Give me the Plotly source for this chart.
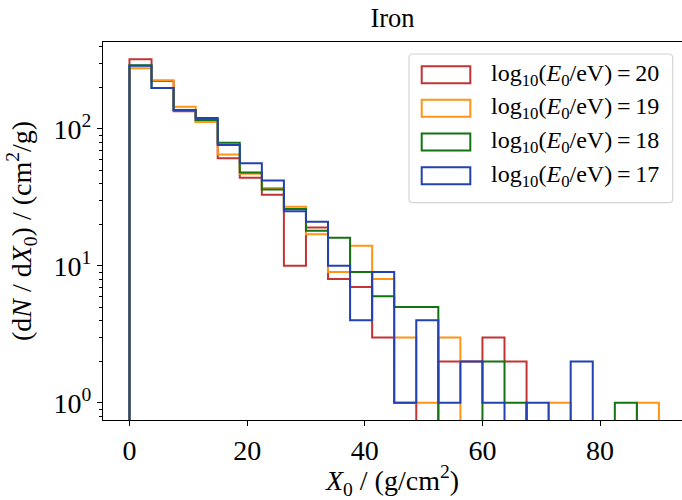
import numpy as np
import plotly.graph_objects as go

# Histogram binning of the starting depth X0 (g/cm^2)
bin_edges = np.linspace(0.0, 90.0, 25)

# Showers per bin for each primary energy, log10(E0/eV)
energies = [20, 19, 18, 17]
counts_e20 = [322, 223, 134, 113, 61, 44, 33, 10, 19, 8, 7, 3, 1, 0, 2, 2, 3, 2, 0, 0, 0, 0, 0, 0]
counts_e19 = [277, 226, 145, 112, 65, 47, 37, 27, 17, 9, 14, 8, 3, 1, 3, 0, 0, 0, 0, 1, 0, 0, 0, 1]
counts_e18 = [291, 198, 137, 116, 79, 48, 36, 26, 18, 16, 9, 6, 5, 5, 0, 0, 2, 1, 0, 0, 0, 0, 1, 0]
counts_e17 = [288, 198, 137, 120, 76, 56, 42, 25, 21, 10, 4, 9, 1, 4, 1, 2, 1, 0, 1, 0, 2, 0, 0, 0]
series = {20: counts_e20, 19: counts_e19, 18: counts_e18, 17: counts_e17}
colors = {20: "#c33333", 19: "#ff9416", 18: "#137313", 17: "#2341b0"}

x_ticks = [0, 20, 40, 60, 80]
y_ticks = [1, 10, 100]
y_tick_text = ["10<sup>0</sup>", "10<sup>1</sup>", "10<sup>2</sup>"]

FONT = "Liberation Serif, Times New Roman, serif"
W, H = 682, 500
L, R, T, B = 103, 0, 42, 80
PW, PH = W - L - R, H - T - B

# empty bins sit below the visible floor of the log axis
floor = 0.1

fig = go.Figure()
for e in energies:
    c = np.asarray(series[e], dtype=float)
    c = np.where(c > 0, c, floor)
    xs = np.repeat(bin_edges, 2)
    ys = np.concatenate([[floor], np.repeat(c, 2), [floor]])
    fig.add_trace(go.Scatter(
        x=xs, y=ys, mode="lines",
        line=dict(color=colors[e], width=2),
        showlegend=False, hoverinfo="skip",
    ))

# axis limits with 5% padding (log padding on y)
all_counts = np.concatenate([series[e] for e in energies]).astype(float)
lo = np.log10(all_counts[all_counts > 0].min())
hi = np.log10(all_counts.max())
pad = 0.05 * (hi - lo)
y_range = [lo - pad, hi + pad]
x_pad = 0.05 * (bin_edges[-1] - bin_edges[0])
x_range = [bin_edges[0] - x_pad, bin_edges[-1] + x_pad - 0.58]

# minor log ticks inside the visible range only
ymin, ymax = 10 ** y_range[0], 10 ** y_range[1]
minor_vals = [m * 10.0 ** k for k in range(-1, 3) for m in range(2, 10)
              if ymin <= m * 10.0 ** k <= ymax]

fig.update_xaxes(
    range=x_range, tickvals=x_ticks, ticks="outside", ticklen=5, tickwidth=1.1,
    tickcolor="black", showline=True, linecolor="black", linewidth=1.1,
    mirror=True, showgrid=False, zeroline=False,
    tickfont=dict(family=FONT, size=28, color="black"),
    title=dict(text="<i>X</i><sub>0</sub> / (g/cm<sup>2</sup>)",
               font=dict(family=FONT, size=28, color="black"), standoff=8),
)
fig.update_yaxes(
    type="log", range=y_range, tickvals=y_ticks, ticktext=y_tick_text,
    ticks="outside", ticklen=5, tickwidth=1.1, tickcolor="black",
    minor=dict(tickmode="array", tickvals=minor_vals, ticks="outside",
               ticklen=3, tickwidth=0.9, tickcolor="black"),
    showline=True, linecolor="black", linewidth=1.1, mirror=False,
    showgrid=False, zeroline=False,
    tickfont=dict(family=FONT, size=28, color="black"),
    title=dict(text="(d<i>N</i> / d<i>X</i><sub>0</sub>) / (cm<sup>2</sup>/g)",
               font=dict(family=FONT, size=28, color="black"), standoff=13),
)


def px(x):
    return (x - L) / PW


def py(y):
    return (T + PH - y) / PH


# legend frame with rounded corners
bx0, bx1, by0, by1, rr = 409, 672.7, 54, 202.7, 4
rx, ry = rr / PW, rr / PH
X0, X1, Y0, Y1 = px(bx0), px(bx1), py(by1), py(by0)
frame = (f"M{X0 + rx},{Y0} L{X1 - rx},{Y0} Q{X1},{Y0} {X1},{Y0 + ry} "
         f"L{X1},{Y1 - ry} Q{X1},{Y1} {X1 - rx},{Y1} L{X0 + rx},{Y1} "
         f"Q{X0},{Y1} {X0},{Y1 - ry} L{X0},{Y0 + ry} Q{X0},{Y0} {X0 + rx},{Y0} Z")
fig.add_shape(type="path", path=frame, xref="paper", yref="paper",
              line=dict(color="#d4d4d4", width=1.2), fillcolor="rgba(255,255,255,0.8)")

row_y = [74.7, 108.3, 142.0, 175.7]
for e, yc in zip(energies, row_y):
    fig.add_shape(type="rect", xref="paper", yref="paper",
                  x0=px(421.7), x1=px(470.3), y0=py(yc + 8.5), y1=py(yc - 8.5),
                  line=dict(color=colors[e], width=2), fillcolor="rgba(0,0,0,0)")
    fig.add_annotation(
        x=px(489), y=py(yc), xref="paper", yref="paper",
        xanchor="left", yanchor="middle", showarrow=False,
        text=f"log<sub>10</sub>(<i>E</i><sub>0</sub>/eV)\u2009=\u2009{e}",
        font=dict(family=FONT, size=24, color="black"),
    )

fig.update_layout(
    width=W, height=H,
    margin=dict(l=L, r=R, t=T, b=B),
    paper_bgcolor="white", plot_bgcolor="white",
    title=dict(text="Iron", x=0.5, xref="paper", xanchor="center",
               y=1 - 17.5 / H, yref="container", yanchor="middle",
               font=dict(family=FONT, size=26.5, color="black")),
)

fig.write_html("out.html")
